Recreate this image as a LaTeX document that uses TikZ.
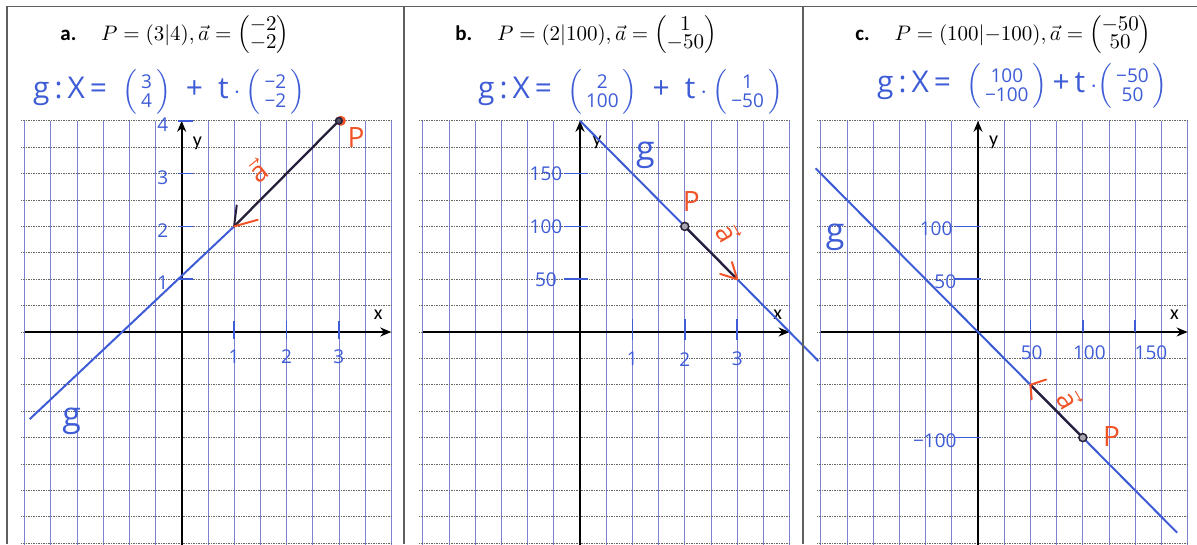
\documentclass[tikz,border=0pt]{standalone}
\usepackage{amsmath}
\usepackage{fontspec}
\newfontfamily\handfont{Open Sans}
\newfontfamily\labelfont{Carlito}
\usetikzlibrary{arrows.meta,positioning}

\definecolor{penblue}{RGB}{62,92,214}
\definecolor{penred}{RGB}{240,84,40}
\definecolor{vecdark}{RGB}{40,32,58}
\definecolor{gridblue}{RGB}{125,130,210}
\definecolor{framegray}{RGB}{95,95,95}

% handwritten column vector
\newcommand\hvec[2]{$\left(\,\mbox{\fontsize{19}{17}\selectfont\begin{tabular}{@{}c@{}}#1\\#2\end{tabular}}\,\right)$}
% printed column vector
\newcommand\cvec[2]{{\renewcommand\arraystretch{0.62}\left(\begin{array}{@{}c@{}}#1\\#2\end{array}\right)}}
\newcommand\papergrid{%
  \foreach \i in {-6,...,8} \draw[vline] (\i,-8.6) -- (\i,8);
  \foreach \j in {-8,...,8} \draw[hline] (-6.15,\j) -- (8,\j);
}

\tikzset{
  vline/.style={gridblue, line width=0.7pt},
  hline/.style={black!60, line width=0.8pt, dash pattern=on 1.6pt off 0.9pt},
  axis/.style={line width=1.7pt, -{Stealth[length=11pt,width=9pt]}},
  gline/.style={penblue, line width=2pt},
  vecline/.style={vecdark, line width=2.3pt},
  barb/.style={line width=2pt, line cap=round},
  tick/.style={penblue, line width=1.5pt},
  hand/.style={penblue, font=\handfont\fontsize{19}{21}\selectfont, inner sep=0pt},
  bighand/.style={penblue, font=\handfont\fontsize{30}{32}\selectfont, inner sep=0pt},
  redhand/.style={penred, font=\handfont, scale=2.8, inner sep=0pt},
  axlabel/.style={font=\labelfont\fontsize{20}{22}\selectfont, inner sep=0pt},
  title/.style={scale=2.1, inner sep=0pt, anchor=base west},
}

\begin{document}
\begin{tikzpicture}[x=1pt, y=-1pt]
  \useasboundingbox (0,0) rectangle (1197,544);

  % titles
  \node[title] (ta) at (60,40) {\labelfont\bfseries a.};
  \node[title] (ma) at ([xshift=24pt]ta.base east) {$P=(3|4),\vec{a}=\cvec{-2}{-2}$};
  \node[title] (tb) at (455,40) {\labelfont\bfseries b.};
  \node[title] (mb) at ([xshift=24pt]tb.base east) {$P=(2|100),\vec{a}=\cvec{1}{-50}$};
  \node[title] (tc) at (855,40) {\labelfont\bfseries c.};
  \node[title] (mc) at ([xshift=24pt]tc.base east) {$P=(100|{-100}),\vec{a}=\cvec{-50}{50}$};

  % handwritten equations
  \node[bighand, anchor=west] (eqa) at (33,92) {g\,:\,X\,=\enspace\hvec{3}{4}\enspace+\enspace t\,$\cdot$\,\hvec{−2}{−2}};
  \node[bighand, anchor=west] (eqb) at (478,92) {g\,:\,X\,=\enspace\hvec{2}{100}\enspace+\enspace t\,$\cdot$\,\hvec{1}{−50}};
  \node[bighand, anchor=west] (eqc) at (877,86) {g\,:\,X\,=\enspace\hvec{100}{−100}\,+\,t\,$\cdot$\hvec{−50}{50}};

  % panel a
  \begin{scope}[shift={(181.7,332)}, x=26.2pt, y=26.4pt]
    \papergrid
    \draw[axis] (-6,0) -- (8,0);
    \draw[axis] (0,-8.6) -- (0,8);
    \node[axlabel] (xa) at (7.5,0.65) {x};
    \node[axlabel] (ya) at (0.6,7.15) {y};
    \foreach \k/\lab in {2/1,4/2,6/3,8/4} {
      \draw[tick] (-0.15,\k) -- (0.45,\k);
      \node[hand] at (-0.72,\k-0.15) {\lab};
    }
    \foreach \k/\lab in {2/1,4/2,6/3} {
      \draw[tick] (\k,-0.25) -- (\k,0.4);
      \node[hand] at (\k,-0.95) {\lab};
    }
    \coordinate (Pa) at (6,8);
    \coordinate (Ta) at (2,4);
    \coordinate (Ea) at (-5.8,-3.3);
    \draw[gline] (Ta) -- (Ea);
    \draw[vecline] (Pa) -- (Ta);
    \draw[vecdark, barb] (Ta) -- (2.1,4.8);
    \draw[penred, barb] (Ta) -- (2.9,4.25);
    \fill[penred] (Pa) ++(2pt,0) circle (5pt);
    \draw[vecdark, line width=1.5pt, fill=vecdark!80] (Pa) circle (3.3pt);
    \node[redhand] (pa) at (6.65,7.35) {P};
    \node[redhand, rotate=38] (va) at (2.9,6.1) {$\vec{\text{a}}$};
    \node[bighand, font=\handfont\fontsize{34}{36}\selectfont] (ga) at (-4.2,-3.4) {g};
  \end{scope}

  % panel b
  \begin{scope}[shift={(580,332)}, x=26.2pt, y=26.4pt]
    \papergrid
    \draw[axis] (-6,0) -- (8,0);
    \draw[axis] (0,-8.6) -- (0,8);
    \node[axlabel] (xb) at (7.55,0.67) {x};
    \node[axlabel] (yb) at (0.65,7.2) {y};
    \foreach \k/\lab in {2/50,4/100,6/150} {
      \draw[tick] (-0.6,\k) -- (0.3,\k);
      \node[hand] at (-1.3,\k) {\lab};
    }
    \foreach \k/\lab in {2/1,4/2,6/3} {
      \draw[tick] (\k,-0.3) -- (\k,0.5);
      \node[hand] at (\k,-1.03) {\lab};
    }
    \coordinate (Pb) at (4,4);
    \coordinate (Tb) at (6,2);
    \coordinate (Sb) at (0,8);
    \coordinate (Eb) at (9.1,-1.1);
    \draw[gline] (Sb) -- (Eb);
    \draw[vecline] (Pb) -- (Tb);
    \draw[penred, barb] (Tb) -- (5.35,2.2);
    \draw[penred, barb] (Tb) -- (5.8,2.65);
    \draw[vecdark, line width=1.5pt, fill=vecdark!40] (Pb) circle (4pt);
    \node[redhand] (pb) at (4.25,4.95) {P};
    \node[redhand, rotate=-60] (vb) at (5.65,3.75) {$\vec{\text{a}}$};
    \node[bighand, font=\handfont\fontsize{34}{36}\selectfont] (gb) at (2.5,6.7) {g};
  \end{scope}

  % panel c
  \begin{scope}[shift={(978,332)}, x=26.2pt, y=26.4pt]
    \papergrid
    \draw[axis] (-6,0) -- (8,0);
    \draw[axis] (0,-8.6) -- (0,8);
    \node[axlabel] (xc) at (7.5,0.67) {x};
    \node[axlabel] (yc) at (0.6,7.2) {y};
    \foreach \k/\lab/\lx in {4/100/-1.6,2/50/-1.25,-4/−100/-1.65} {
      \draw[tick] (-0.9,\k) -- (0.1,\k);
      \node[hand] at (\lx,\k-0.1) {\lab};
    }
    \foreach \k/\lab/\lx in {2/50/2.05,4/100/4.25,6/150/6.6} {
      \draw[tick] (\k,0) -- (\k,0.45);
      \node[hand] at (\lx,-0.78) {\lab};
    }
    \coordinate (Pc) at (4,-4);
    \coordinate (Tc) at (2,-2);
    \coordinate (Sc) at (-6.2,6.2);
    \coordinate (Ec) at (7.6,-7.6);
    \draw[gline] (Sc) -- (Ec);
    \draw[vecline] (Pc) -- (Tc);
    \draw[penred, barb] (Tc) -- (2.6,-1.8);
    \draw[penred, barb] (Tc) -- (2.05,-2.55);
    \draw[vecdark, line width=1.5pt, fill=vecdark!40] (Pc) circle (4pt);
    \node[redhand] (pc) at (5.1,-3.95) {P};
    \node[redhand, rotate=-60] (vc) at (3.5,-2.55) {$\vec{\text{a}}$};
    \node[bighand, font=\handfont\fontsize{34}{36}\selectfont] (gc) at (-5.45,3.6) {g};
  \end{scope}

  % frame
  \draw[framegray, line width=1.5pt] (7,544) -- (7,6.5) -- (1197,6.5);
  \draw[framegray, line width=1.5pt] (404,6.5) -- (404,544);
  \draw[framegray, line width=1.5pt] (803,6.5) -- (803,544);
\end{tikzpicture}
\end{document}
